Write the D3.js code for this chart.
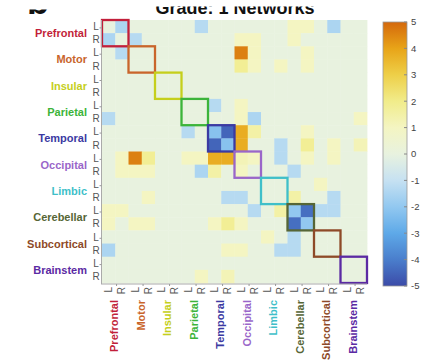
<!DOCTYPE html>
<html><head><meta charset="utf-8">
<script src="https://cdn.jsdelivr.net/npm/d3@7"></script>
<style>body{margin:0;background:#fff}svg{display:block;font-family:"Liberation Sans",Arial,sans-serif}</style>
</head><body><svg id="c" width="428" height="361"></svg>
<script>
const networks = ["Prefrontal","Motor","Insular","Parietal","Temporal","Occipital","Limbic","Cerebellar","Subcortical","Brainstem"];
const networkColors = ["#c21f3a","#c9652b","#c5cf1c","#3cb43a","#3b3aa2","#9a66c9","#3fbfc9","#566636","#8e4a28","#5b2aa3"];
const hemis = ["L","R"];
const colorTicks = [5,4,3,2,1,0,-1,-2,-3,-4,-5];
const titleText = "Grade: 1 Networks";
// 20x20 connectivity values (rows/cols: network L,R)
const matrix = [
[0,-1.5,0,0,0,0,0,-1.3,0,0,0,0,0,0,1,1,0,-1.5,0,0],
[-1.5,0,-1.3,0,0,0,0,0,0,0,1,1,0,0,1,0,0,0,0,0],
[0,-1.3,0,0,0,0,0,0,0,0,4.6,1,0,0,0,1,0,0,0,0],
[0,0,0,0,0,0,0,0,0,0,1.8,1,0,1,0,1,0,0,0,0],
[0,0,0,0,0,0,0,0,0,0,0,0,0,0,0,0,0,0,0,0],
[0,0,0,0,0,0,0,0,0,0,0,0,0,0,0,0,0,0,0,0],
[0,0,0,0,0,0,0,0,-1.3,0,1,0,0,0,0,0,0,0,0,0],
[-1.3,0,0,0,0,0,0,0,0,0,1,-1.5,0,0,0,0,0,0,0,1],
[0,0,0,0,0,0,-1.3,0,-2.2,-4.5,3.8,1.5,0,0,0,1,0,0,0,0],
[0,0,0,0,0,0,0,0,-4.5,-2.2,3.8,0,0,-1.3,0,1.8,0,1,0,1.2],
[0,1,4.6,1.8,0,0,1,1,3.8,3.8,1.2,1,0,-1.3,0,1,0,1,0,0],
[0,1,1,1,0,0,0,-1.5,1.5,0,1,0,0,0,-1.3,0,0,0,0,0],
[0,0,0,0,0,0,0,0,0,0,0,0,0,0,0,0,1,0,0,0],
[0,0,0,1,0,0,0,0,0,-1.3,-1.3,0,0,0,1.5,0,0,-1.3,0,0],
[1,1,0,0,0,0,0,0,0,0,0,-1.3,0,1.5,-2,-4.3,-1.3,-1.3,0,0],
[1,0,1,1,0,0,0,0,1,1.8,1,0,0,0,-4.3,-2,0,0,0,0],
[0,0,0,0,0,0,0,0,0,0,0,0,1,0,-1.3,0,0,0,0,0],
[-1.5,0,0,0,0,0,0,0,0,1,1,0,0,-1.3,-1.3,0,0,0,0,0],
[0,0,0,0,0,0,0,0,0,0,0,0,0,0,0,0,0,0,0,0],
[0,0,0,0,0,0,0,1,0,1.2,0,0,0,0,0,0,0,0,0,0]
];
const stopVals = [-5,-4,-3,-2,-1,0,1,2,3,4,5];
const stopCols = ["#3b4ba8","#4a7ecc","#5ea9e8","#92c8f0","#c6e1f2","#e8f2df","#f4f5c2","#f1ec8a","#eecf48","#e8a418","#d4680c"];

const svg = d3.select("#c");
const keys = [];
networks.forEach(n => hemis.forEach(h => keys.push(n + "_" + h)));
const x = d3.scaleBand().domain(keys).range([102,367]);
const y = d3.scaleBand().domain(keys).range([20,283]);
const color = d3.scaleLinear().domain(stopVals).range(stopCols).clamp(true);

// cells
const cells = [];
matrix.forEach((row,i) => row.forEach((v,j) => cells.push({r:keys[i], c:keys[j], v})));
svg.append("g").selectAll("rect").data(cells).join("rect")
  .attr("x", d => x(d.c)).attr("y", d => y(d.r))
  .attr("width", x.bandwidth()+0.4).attr("height", y.bandwidth()+0.4)
  .attr("fill", d => color(d.v));

// diagonal boxes
svg.append("g").selectAll("rect").data(networks).join("rect")
  .attr("x", n => x(n+"_L")).attr("y", n => y(n+"_L"))
  .attr("width", 2*x.bandwidth()).attr("height", 2*y.bandwidth())
  .attr("fill","none").attr("stroke-width",2.3)
  .attr("stroke", (n,i) => networkColors[i]);

// axes lines
svg.append("line").attr("x1",101.5).attr("x2",101.5).attr("y1",20).attr("y2",284).attr("stroke","#aaa").attr("stroke-width",1);
svg.append("line").attr("x1",101).attr("x2",367).attr("y1",284).attr("y2",284).attr("stroke","#aaa").attr("stroke-width",1);
svg.append("g").selectAll("line").data(networks).join("line")
  .attr("x1",99.5).attr("x2",101.5).attr("y1", n => y(n+"_L")+y.bandwidth()*0.6).attr("y2", n => y(n+"_L")+y.bandwidth()*0.6)
  .attr("stroke","#999");
svg.append("g").selectAll("line").data(networks).join("line")
  .attr("y1",284).attr("y2",286).attr("x1", n => x(n+"_L")+x.bandwidth()*1.1).attr("x2", n => x(n+"_L")+x.bandwidth()*1.1)
  .attr("stroke","#999");

// left L/R
svg.append("g").selectAll("text").data(keys).join("text")
  .attr("x",96).attr("y", k => y(k)+y.bandwidth()/2).attr("dy","0.36em")
  .attr("text-anchor","middle").attr("font-size",10).attr("fill","#555")
  .text(k => k.split("_")[1]);
// bottom L/R
svg.append("g").selectAll("text").data(keys).join("text")
  .attr("transform", k => `translate(${x(k)+x.bandwidth()/2},287) rotate(-90)`)
  .attr("dy","0.36em").attr("text-anchor","end").attr("font-size",10).attr("fill","#555")
  .text(k => k.split("_")[1]);
// left network labels
svg.append("g").selectAll("text").data(networks).join("text")
  .attr("x",87).attr("y", n => y(n+"_R")).attr("dy","0.36em")
  .attr("text-anchor","end").attr("font-size",11).attr("font-weight","bold")
  .attr("fill",(n,i)=>networkColors[i]).text(n=>n);
// bottom network labels
svg.append("g").selectAll("text").data(networks).join("text")
  .attr("transform", n => `translate(${x(n+"_R")-1},300) rotate(-90)`)
  .attr("dy","0.36em").attr("text-anchor","end").attr("font-size",11).attr("font-weight","bold")
  .attr("fill",(n,i)=>networkColors[i]).text(n=>n);

// colorbar
const cb = d3.scaleLinear().domain([-5,5]).range([286,22]);
const defs = svg.append("defs");
const grad = defs.append("linearGradient").attr("id","cbg").attr("x1",0).attr("x2",0).attr("y1",1).attr("y2",0);
stopVals.forEach((v,i)=>grad.append("stop").attr("offset",(v+5)/10).attr("stop-color",stopCols[i]));
svg.append("rect").attr("x",383).attr("y",cb(5)).attr("width",24).attr("height",cb(-5)-cb(5))
  .attr("fill","url(#cbg)").attr("stroke","#999").attr("stroke-width",0.8);
svg.append("g").selectAll("line").data(colorTicks).join("line")
  .attr("x1",404).attr("x2",407).attr("y1",d=>cb(d)).attr("y2",d=>cb(d)).attr("stroke","#888");
svg.append("g").selectAll("text").data(colorTicks).join("text")
  .attr("x",411).attr("y",d=>cb(d)).attr("dy","0.36em").attr("font-size",9.5).attr("fill","#444")
  .text(d=>d);

// title (top clipped as in the reference crop)
defs.append("clipPath").attr("id","tclip").append("rect").attr("x",0).attr("y",6.5).attr("width",428).attr("height",20);
defs.append("clipPath").attr("id","bclip").append("rect").attr("x",0).attr("y",9.5).attr("width",428).attr("height",10);
svg.append("text").attr("x",235).attr("y",13.5).attr("text-anchor","middle")
  .attr("font-size",18).attr("font-weight","bold").attr("fill","#111")
  .attr("clip-path","url(#tclip)").text(titleText);
svg.append("text").attr("x",27).attr("y",13.5)
  .attr("font-size",36).attr("font-weight","bold").attr("fill","#111")
  .attr("clip-path","url(#bclip)").text("b");
</script></body></html>
